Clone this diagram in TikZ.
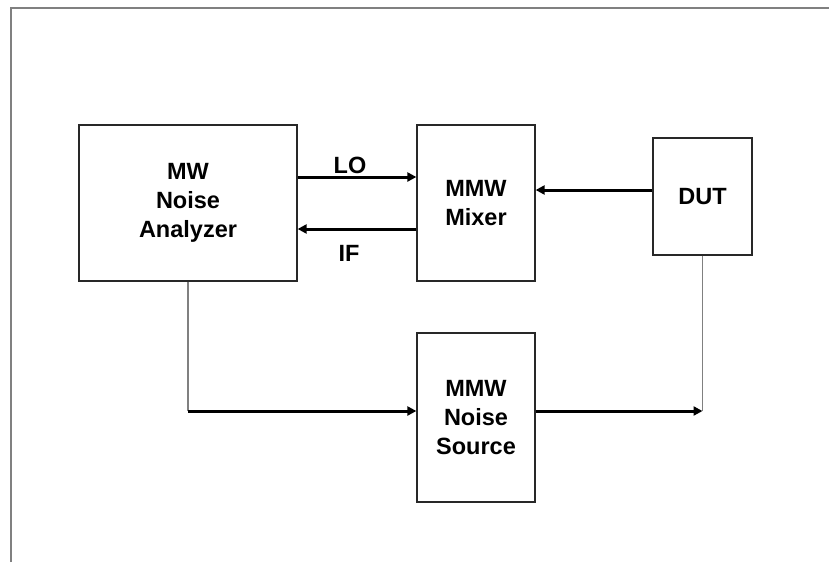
\documentclass[tikz,border=0pt]{standalone}
\usepackage{fontspec}
\setmainfont{Liberation Sans}
\usetikzlibrary{arrows.meta}
\definecolor{framegray}{RGB}{128,128,128}
\definecolor{boxline}{RGB}{40,40,40}
\tikzset{
  blk/.style={draw=boxline, line width=1.3pt, inner sep=0pt, align=center,
    font=\fontsize{23.5}{29}\selectfont\bfseries},
  lbl/.style={inner sep=0pt, font=\fontsize{23.5}{29}\selectfont\bfseries},
  arr/.style={line width=3pt, -{Triangle[length=9pt,width=9pt]}},
  conn/.style={draw=framegray, line width=1.6pt},
}
\begin{document}
\begin{tikzpicture}[x=1pt,y=-1pt]
\useasboundingbox (0,0) rectangle (829,562);
\draw[framegray, line width=1.8pt] (11,562) -- (11,8) -- (829,8);
\node[blk, minimum width=218pt, minimum height=156pt] (ana) at (188,203) {MW\\Noise\\Analyzer};
\node[blk, minimum width=118pt, minimum height=156pt] (mix) at (476,203) {MMW\\Mixer};
\node[blk, minimum width=99pt, minimum height=117pt] (dut) at (702.5,196.5) {DUT};
\node[blk, minimum width=118pt, minimum height=169pt] (src) at (476,417.5) {MMW\\Noise\\Source};
\node[lbl] (lo) at (350,165) {LO};
\node[lbl] (if) at (349,253.5) {IF};
\coordinate (ylo) at (0,177);
\coordinate (yif) at (0,229);
\coordinate (ydut) at (0,190);
\coordinate (ybot) at (0,411);
\draw[arr] (ana.east |- ylo) -- (mix.west |- ylo);
\draw[arr] (mix.west |- yif) -- (ana.east |- yif);
\draw[arr] (dut.west |- ydut) -- (mix.east |- ydut);
\coordinate (c1) at (ana.south |- ybot);
\coordinate (c2) at (dut.south |- ybot);
\draw[conn] (ana.south) -- (c1);
\draw[conn] (dut.south) -- (c2);
\draw[arr] (c1) -- (src.west |- c1);
\draw[arr] (src.east |- c1) -- (c2);
\end{tikzpicture}
\end{document}
